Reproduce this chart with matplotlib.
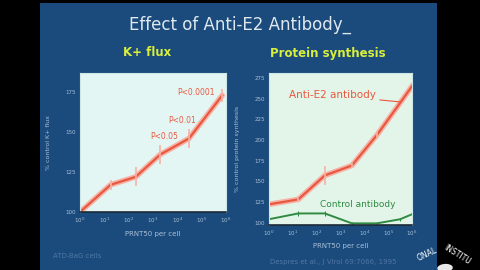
import numpy as np
import matplotlib.pyplot as plt
from matplotlib.patches import Rectangle, Ellipse

# K+ flux panel
kflux_dose = [1, 18, 195, 2000, 30000, 700000]
kflux_pct = [100, 117, 122, 136, 146, 173]
kflux_err = [0, 3, 6, 6, 6, 4]
kflux_p = ["P<0.05", "P<0.01", "P<0.0001"]

# protein synthesis panel
ps_dose = [1, 17, 220, 3000, 34000, 320000, 1000000]
anti_e2 = [122, 128, 157, 169, 206, 245, 265]
anti_e2_err = [0, 2, 12, 3, 5, 0, 0]
control = [104, 111, 111, 99, 99, 104, 110]
control_err = [0, 3, 3, 2, 2, 2, 0]

xticks = [1, 10, 100, 1000, 10000, 100000, 1000000]
xticklabels = ["$10^{%d}$" % i for i in range(7)]

SLIDE = "#1b4b7c"
PAPER1 = "#e4f6f3"
PAPER2 = "#e3f5e9"
RED = "#e8583f"
GLOW = "#f6b2a6"
GREEN = "#2f8a42"
TICKC = "#a9bfd6"

fig = plt.figure(figsize=(4.8, 2.7), dpi=100)
fig.patch.set_facecolor("black")
fig.patches.append(Rectangle((40/480, 0), 397/480, 267/270, transform=fig.transFigure,
                             facecolor=SLIDE, edgecolor="none", zorder=-10))

fig.text(0.5, 1 - 25/270, "Effect of Anti-E2 Antibody_", ha="center", va="center",
         color="#dfe8ee", fontsize=12)
fig.text(147/480, 1 - 53/270, "K+ flux", ha="center", va="center",
         color="#d9ef3c", fontsize=8.5, fontweight="bold")
fig.text(328/480, 1 - 53/270, "Protein synthesis", ha="center", va="center",
         color="#d9ef3c", fontsize=8.5, fontweight="bold")


def style(ax, bg):
    ax.set_facecolor(bg)
    ax.set_xscale("log")
    ax.set_xlim(1, 1e6)
    ax.set_xticks(xticks)
    ax.set_xticklabels(xticklabels)
    ax.minorticks_off()
    ax.tick_params(length=0, labelsize=4, colors=TICKC, pad=3)
    for s in ax.spines.values():
        s.set_color("#cfe6e6")
    ax.spines["bottom"].set_color("#1c2a36")
    ax.spines["bottom"].set_linewidth(1.2)
    ax.set_xlabel("PRNT50 per cell", fontsize=5, color=TICKC, labelpad=4)


# left panel
ax1 = fig.add_axes([80/480, 1 - 212/270, 146/480, 139/270])
style(ax1, PAPER1)
ax1.set_ylim(100, 187)
ax1.set_yticks([100, 125, 150, 175])
ax1.set_ylabel("% control K+ flux", fontsize=4.5, color=TICKC, labelpad=10)
ax1.plot(kflux_dose, kflux_pct, color=GLOW, lw=4, solid_capstyle="round")
ax1.plot(kflux_dose, kflux_pct, color=RED, lw=1.6)
ax1.errorbar(kflux_dose, kflux_pct, yerr=kflux_err, fmt="none", ecolor=GLOW, lw=1.2)
for (tx, ty, lab) in zip([2900, 16000, 59000], [147, 157.5, 175], kflux_p):
    ax1.text(tx, ty, lab, color=RED, fontsize=5.5, ha="center", va="center")

# right panel
ax2 = fig.add_axes([269/480, 1 - 225/270, 143/480, 152/270])
style(ax2, PAPER2)
ax2.set_ylim(97, 281)
ax2.set_yticks([100, 125, 150, 175, 200, 225, 250, 275])
ax2.set_ylabel("% control protein synthesis", fontsize=4.5, color=TICKC, labelpad=10)
ax2.xaxis.labelpad = 3
ax2.plot(ps_dose, anti_e2, color=GLOW, lw=4)
ax2.plot(ps_dose, anti_e2, color=RED, lw=1.6)
ax2.errorbar(ps_dose, anti_e2, yerr=anti_e2_err, fmt="none", ecolor=GLOW, lw=1.2)
ax2.plot(ps_dose, control, color=GREEN, lw=1.4)
ax2.errorbar(ps_dose, control, yerr=control_err, fmt="none", ecolor=GREEN, lw=0.8)
ax2.annotate("Anti-E2 antibody", xy=(3.2e5, 246), xytext=(450, 254),
             color=RED, fontsize=7.5, ha="center", va="center",
             arrowprops=dict(arrowstyle="-", color=RED, lw=0.8, shrinkA=1, shrinkB=0))
ax2.text(140, 122, "Control antibody", color=GREEN, fontsize=6.5, ha="left", va="center")

# footer
fig.text(53/480, 1 - 256/270, "ATD-BaG cells", color="#4f76a3", fontsize=5, va="center")
fig.text(270/480, 1 - 262/270, "Despres et al., J Virol 69:7066, 1995", color="#4f76a3",
         fontsize=5, va="center")

# logo corner
fig.text(427/480, 1 - 254/270, "ONAL", color="white", fontsize=5.5, ha="center",
         va="center", rotation=25)
fig.text(457/480, 1 - 255/270, "INSTITU", color="white", fontsize=5.5, ha="center",
         va="center", rotation=-32)
fig.patches.append(Ellipse((445/480, 1 - 268/270), 16/480, 8/270, angle=30,
                           transform=fig.transFigure, facecolor="#e8e8e8",
                           edgecolor="none", zorder=5))

fig.savefig("out.png", dpi=100, facecolor=fig.get_facecolor())
